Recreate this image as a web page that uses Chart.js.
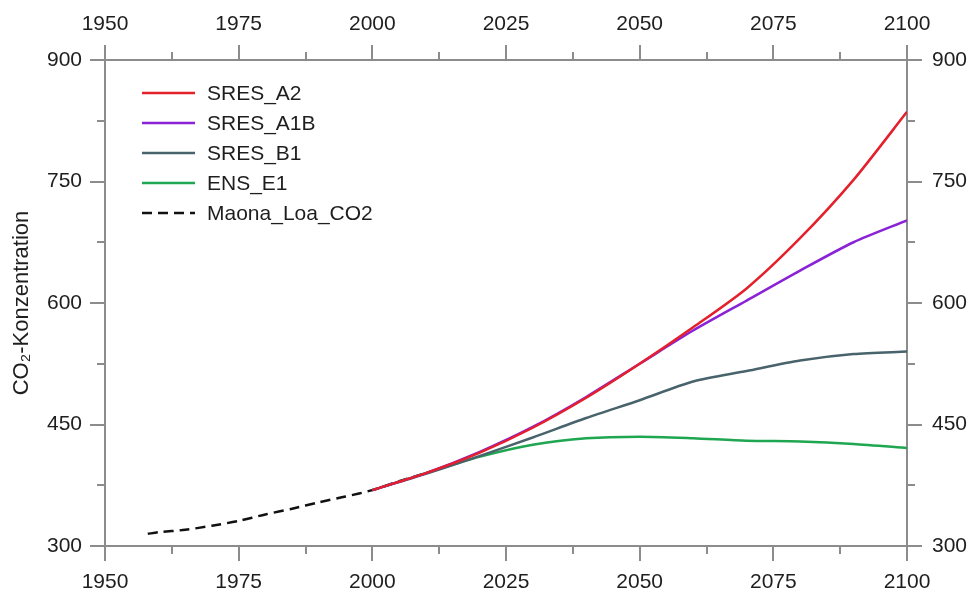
<!DOCTYPE html>
<html>
<head>
<meta charset="utf-8">
<script src="https://cdn.jsdelivr.net/npm/chart.js@4.4.1/dist/chart.umd.min.js"></script>
<style>
  html, body { margin: 0; padding: 0; background: #fff; }
  #wrap { width: 973px; height: 595px; }
</style>
</head>
<body>
<div id="wrap"><canvas id="co2Chart"></canvas></div>
<script>
// Szenarien (2000-2100, alle 10 Jahre)
const scenarioYears = [2000, 2010, 2020, 2030, 2040, 2050, 2060, 2070, 2080, 2090, 2100];
const sresA2  = [369, 390, 415, 446, 483, 525, 570, 618, 680, 752, 836];
const sresA1B = [369, 390, 416, 447, 484, 525, 566, 603, 640, 675, 702];
const sresB1  = [369, 389, 411, 434, 458, 480, 503, 516, 529, 537, 540];
const ensE1   = [369, 390, 410, 425, 433, 435, 433, 430, 429, 426, 421];

// Messungen Mauna Loa
const mloYears = [1958, 1960, 1965, 1970, 1975, 1980, 1985, 1990, 1995, 2000, 2005, 2010];
const mloCO2   = [315, 317, 320, 325, 331, 339, 346, 354, 361, 369, 380, 390];

// Achsen
const xTicks = [1950, 1975, 2000, 2025, 2050, 2075, 2100];
const yTicks = [300, 450, 600, 750, 900];

const toPoints = (xs, ys) => xs.map((x, i) => ({ x: x, y: ys[i] }));

const axisGray = '#8c8c8c';
const textColor = '#1e1e1e';
const fontFam = '"Liberation Sans", Arial, sans-serif';

// kleine Zwischenstriche (Minor Ticks) und Legende im Plotbereich
const extras = {
  id: 'extras',
  afterDraw(chart) {
    const ctx = chart.ctx;
    const a = chart.chartArea;
    const sx = chart.scales.x, sy = chart.scales.y;
    ctx.save();
    ctx.strokeStyle = axisGray;
    ctx.lineWidth = 2;
    ctx.beginPath();
    for (let i = 0; i < xTicks.length - 1; i++) {
      const px = Math.round(sx.getPixelForValue((xTicks[i] + xTicks[i + 1]) / 2));
      ctx.moveTo(px, a.top); ctx.lineTo(px, a.top - 8);
      ctx.moveTo(px, a.bottom); ctx.lineTo(px, a.bottom + 8);
    }
    for (let i = 0; i < yTicks.length - 1; i++) {
      const py = Math.round(sy.getPixelForValue((yTicks[i] + yTicks[i + 1]) / 2));
      ctx.moveTo(a.left, py); ctx.lineTo(a.left - 8, py);
      ctx.moveTo(a.right, py); ctx.lineTo(a.right + 8, py);
    }
    ctx.stroke();

    // Legende
    ctx.font = '21px ' + fontFam;
    ctx.textBaseline = 'middle';
    chart.data.datasets.forEach((ds, i) => {
      const y = a.top + 33 + i * 30;
      ctx.beginPath();
      ctx.strokeStyle = ds.borderColor;
      ctx.lineWidth = 2.5;
      ctx.setLineDash(ds.borderDash || []);
      ctx.moveTo(a.left + 37, y);
      ctx.lineTo(a.left + 90, y);
      ctx.stroke();
      ctx.setLineDash([]);
      ctx.fillStyle = textColor;
      ctx.fillText(ds.label, a.left + 102, y + 1);
    });
    ctx.restore();
  }
};

const baseGrid = {
  drawOnChartArea: false,
  drawTicks: true,
  tickLength: 15,
  color: axisGray,
  lineWidth: 2
};
const baseBorder = { display: true, color: axisGray, width: 2 };
const tickFont = { family: fontFam, size: 21 };

const config = {
  type: 'line',
  data: {
    datasets: [
      { label: 'SRES_A2', data: toPoints(scenarioYears, sresA2), borderColor: '#e3202b' },
      { label: 'SRES_A1B', data: toPoints(scenarioYears, sresA1B), borderColor: '#8a22d6' },
      { label: 'SRES_B1', data: toPoints(scenarioYears, sresB1), borderColor: '#48636b' },
      { label: 'ENS_E1', data: toPoints(scenarioYears, ensE1), borderColor: '#1fa650' },
      { label: 'Maona_Loa_CO2', data: toPoints(mloYears, mloCO2), borderColor: '#111', borderDash: [10, 6] }
    ]
  },
  options: {
    responsive: true,
    maintainAspectRatio: false,
    animation: false,
    layout: { padding: 0 },
    elements: {
      point: { radius: 0 },
      line: { borderWidth: 2.5, tension: 0.25, fill: false }
    },
    plugins: {
      legend: { display: false },
      tooltip: { enabled: false }
    },
    scales: {
      x: {
        type: 'linear', position: 'bottom', min: 1950, max: 2100,
        afterBuildTicks: s => { s.ticks = xTicks.map(v => ({ value: v })); },
        afterFit: s => { s.height = 49; },
        ticks: { font: tickFont, color: textColor, padding: 9, maxRotation: 0, callback: v => String(v) },
        grid: baseGrid, border: baseBorder
      },
      x2: {
        type: 'linear', position: 'top', min: 1950, max: 2100,
        afterBuildTicks: s => { s.ticks = xTicks.map(v => ({ value: v })); },
        afterFit: s => { s.height = 60; },
        ticks: { font: tickFont, color: textColor, padding: 8, maxRotation: 0, callback: v => String(v) },
        grid: baseGrid, border: baseBorder
      },
      y: {
        type: 'linear', position: 'left', min: 300, max: 900,
        afterBuildTicks: s => { s.ticks = yTicks.map(v => ({ value: v })); },
        afterFit: s => { s.width = 105; },
        ticks: { font: tickFont, color: textColor, padding: 8 },
        grid: baseGrid, border: baseBorder,
        title: {
          display: true, text: 'CO₂-Konzentration', color: textColor,
          font: { family: fontFam, size: 22 }, padding: { top: 9, bottom: 0 }
        }
      },
      y2: {
        type: 'linear', position: 'right', min: 300, max: 900,
        afterBuildTicks: s => { s.ticks = yTicks.map(v => ({ value: v })); },
        afterFit: s => { s.width = 66; },
        ticks: { font: tickFont, color: textColor, padding: 10 },
        grid: baseGrid, border: baseBorder
      }
    }
  },
  plugins: [extras]
};

const ctx = document.getElementById('co2Chart').getContext('2d');
const co2Chart = new Chart(ctx, config);
</script>
</body>
</html>
